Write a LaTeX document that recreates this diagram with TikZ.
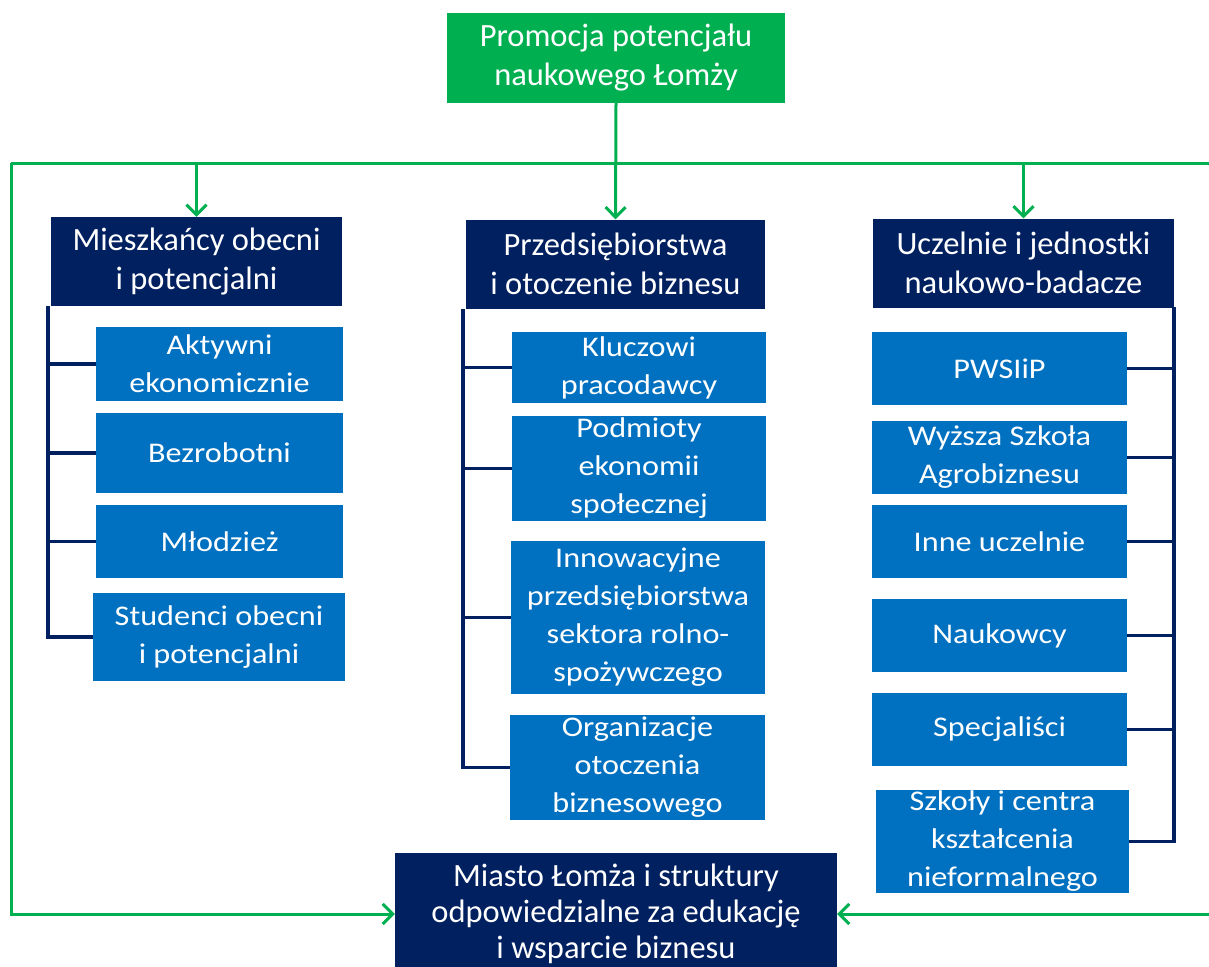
\documentclass[tikz,border=0pt]{standalone}
\usepackage{fontspec}
\setmainfont{Carlito}
\newfontfamily\widefont[FakeStretch=1.13]{Carlito}
\usetikzlibrary{arrows.meta}
\definecolor{grn}{HTML}{00B050}
\definecolor{navy}{HTML}{002060}
\definecolor{boxblue}{HTML}{0070C0}

\begin{document}
\begin{tikzpicture}[x=1pt,y=-1pt,
  headbox/.style={fill=navy, text=white, inner sep=0pt, align=center,
    font=\fontsize{32.5}{39}\selectfont},
  topbox/.style={headbox, fill=grn},
  itembox/.style={fill=boxblue, text=white, inner sep=0pt, align=center,
    font=\widefont\fontsize{28.5}{38}\selectfont},
  flow/.style={draw=grn, line width=3pt},
  flowarrow/.style={flow, -{Straight Barb[length=10pt,width=20pt]}},
  bracket/.style={draw=navy, line width=3.2pt}
]
\useasboundingbox (0,0) rectangle (1209,966);
\clip (0,0) rectangle (1209,966);

% distribution line and feedback frame
\coordinate (tl) at (11,163);
\coordinate (tr) at (1216,163);
\draw[flow] (tl) -- (tr);

% top box
\node[topbox, minimum width=338pt, minimum height=90pt] (top) at (616,58)
  {Promocja potencjału\\naukowego Łomży};

% group headers
\node[headbox, minimum width=291pt, minimum height=89pt] (m1) at (196.5,261.5)
  {Mieszkańcy obecni\\i potencjalni};
\node[headbox, minimum width=299pt, minimum height=89pt] (m2) at (615.5,264)
  {Przedsiębiorstwa\\i otoczenie biznesu};
\node[headbox, minimum width=301pt, minimum height=89pt] (m3) at (1023.5,263)
  {Uczelnie i jednostki\\naukowo-badacze};

% bottom box (runs past the lower edge)
\node[headbox, minimum width=442pt, minimum height=122pt,
  font=\fontsize{32.5}{36}\selectfont] (bot) at (616,914)
  {Miasto Łomża i struktury\\odpowiedzialne za edukację\\i wsparcie biznesu};

% column 1 items
\node[itembox, minimum width=247pt, minimum height=74pt] (a1) at (219.5,364) {Aktywni\\ekonomicznie};
\node[itembox, minimum width=247pt, minimum height=80pt] (a2) at (219.5,453) {Bezrobotni};
\node[itembox, minimum width=247pt, minimum height=73pt] (a3) at (219.5,541.5) {Młodzież};
\node[itembox, minimum width=252pt, minimum height=88pt] (a4) at (219,637) {Studenci obecni\\i potencjalni};

% column 2 items
\node[itembox, minimum width=254pt, minimum height=71pt] (k1) at (639,367.5) {Kluczowi\\pracodawcy};
\node[itembox, minimum width=254pt, minimum height=105pt] (k2) at (639,468.5) {Podmioty\\ekonomii\\społecznej};
\node[itembox, minimum width=254pt, minimum height=153pt] (k3) at (638,617.5) {Innowacyjne\\przedsiębiorstwa\\sektora rolno-\\spożywczego};
\node[itembox, minimum width=255pt, minimum height=105pt] (k4) at (637.5,767.5) {Organizacje\\otoczenia\\biznesowego};

% column 3 items
\node[itembox, minimum width=255pt, minimum height=73pt] (u1) at (999.5,368.5) {PWSIiP};
\node[itembox, minimum width=255pt, minimum height=73pt] (u2) at (999.5,457.5) {Wyższa Szkoła\\Agrobiznesu};
\node[itembox, minimum width=255pt, minimum height=73pt] (u3) at (999.5,541.5) {Inne uczelnie};
\node[itembox, minimum width=255pt, minimum height=73pt] (u4) at (999.5,635.5) {Naukowcy};
\node[itembox, minimum width=255pt, minimum height=73pt] (u5) at (999.5,729.5) {Specjaliści};
\node[itembox, minimum width=253pt, minimum height=103pt] (u6) at (1002.5,841.5) {Szkoły i centra\\kształcenia\\nieformalnego};

% green arrows
\draw[flowarrow] (top.south) -- (m2.north);
\draw[flowarrow] (tl -| m1.north) -- (m1.north);
\draw[flowarrow] (tl -| m3.north) -- (m3.north);
\draw[flowarrow] (tl) |- (bot.west);
\draw[flowarrow] (tr) |- (bot.east);

% brackets
\coordinate (b1) at (48,306);
\draw[bracket] (b1) |- (a4.west);
\foreach \n in {a1,a2,a3} \draw[bracket] (b1 |- \n.west) -- (\n.west);

\coordinate (b2) at (463,309);
\draw[bracket] (b2) |- (k4.west);
\foreach \n in {k1,k2,k3} \draw[bracket] (b2 |- \n.west) -- (\n.west);

\coordinate (b3) at (1174,307);
\draw[bracket] (b3) |- (u6.east);
\foreach \n in {u1,u2,u3,u4,u5} \draw[bracket] (b3 |- \n.east) -- (\n.east);
\end{tikzpicture}
\end{document}
